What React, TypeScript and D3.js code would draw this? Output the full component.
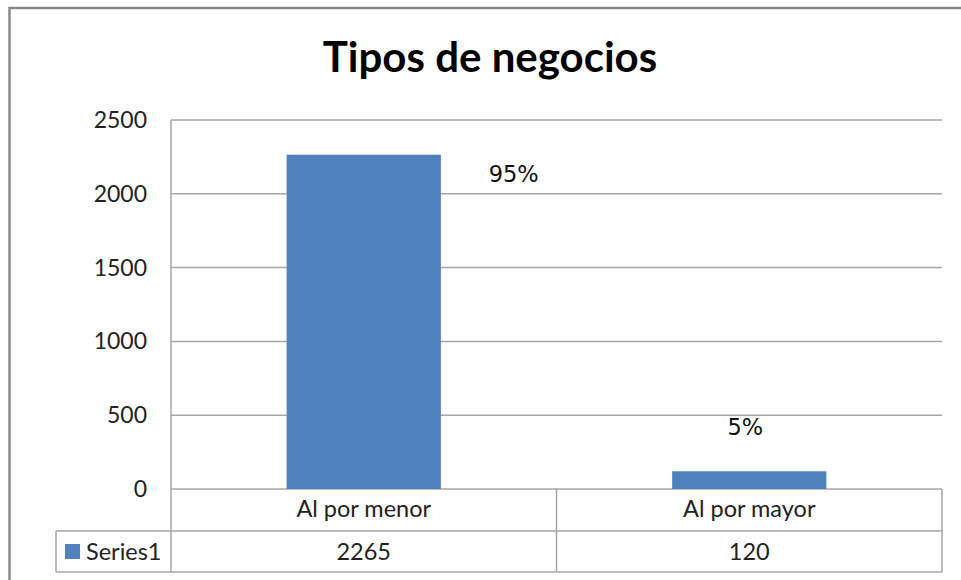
import React from "react";
import * as d3 from "d3";

const categories = ["Al por menor", "Al por mayor"];
const seriesName = "Series1";
const values = [2265, 120];
const percentLabels = ["95%", "5%"];
const yTicks = [0, 500, 1000, 1500, 2000, 2500];
const title = "Tipos de negocios";

const W = 961;
const H = 580;
const plot = { left: 171, right: 942, top: 120, bottom: 489 };
const tableRow1 = 531;
const tableBottom = 572;
const tableLeft = 56;
// manual data-label offsets (relative to bar top-center)
const labelOffsets = [
  { dx: 150, dy: 27 },
  { dx: -4, dy: -36 },
];

const BAR = "#4f81bd";
const GRID = "#a6a6a6";
const FONT = "Lato, 'Open Sans', sans-serif";

export default function App() {
  const y = d3.scaleLinear().domain([0, 2500]).range([plot.bottom, plot.top]);
  const x = d3.scaleBand<string>().domain(categories).range([plot.left, plot.right]).padding(0);
  const step = x.step();
  const barW = step * 0.4;

  return (
    <svg
      width={W}
      height={H}
      style={{ position: "absolute", left: 0, top: 0, background: "#fff" }}
    >
      <rect x={0} y={0} width={W} height={H} fill="#fff" />
      {/* outer chart border */}
      <rect x={9.5} y={8} width={W + 20} height={H + 20} fill="none" stroke="#8a8a8a" strokeWidth={2.5} />

      {/* title */}
      <text
        x={490}
        y={72}
        textAnchor="middle"
        fontFamily={FONT}
        fontWeight="bold"
        fontSize={42}
        fill="#000"
      >
        {title}
      </text>

      {/* gridlines */}
      {yTicks.map((t) => (
        <line key={"g" + t} x1={plot.left} x2={plot.right} y1={y(t)} y2={y(t)} stroke={GRID} strokeWidth={1.5} />
      ))}
      {/* y axis line */}
      <line x1={plot.left} x2={plot.left} y1={plot.top} y2={tableBottom} stroke={GRID} strokeWidth={1.5} />

      {/* y tick labels */}
      {yTicks.map((t) => (
        <text
          key={"t" + t}
          x={147}
          y={y(t) + 8}
          textAnchor="end"
          fontFamily={FONT}
          fontSize={23}
          fill="#222"
        >
          {t}
        </text>
      ))}

      {/* bars */}
      {values.map((v, i) => {
        const cx = (x(categories[i]) as number) + step / 2;
        return (
          <rect key={"b" + i} x={cx - barW / 2} y={y(v)} width={barW} height={y(0) - y(v)} fill={BAR} />
        );
      })}

      {/* data labels */}
      {values.map((v, i) => {
        const cx = (x(categories[i]) as number) + step / 2;
        return (
          <text
            key={"l" + i}
            x={cx + labelOffsets[i].dx}
            y={y(v) + labelOffsets[i].dy}
            textAnchor="middle"
            fontFamily="'DejaVu Sans', Verdana, sans-serif"
            fontSize={22.5}
            fill="#111"
          >
            {percentLabels[i]}
          </text>
        );
      })}

      {/* data table */}
      <line x1={tableLeft} x2={plot.right} y1={tableRow1} y2={tableRow1} stroke={GRID} strokeWidth={1.5} />
      <line x1={tableLeft} x2={plot.right} y1={tableBottom} y2={tableBottom} stroke={GRID} strokeWidth={1.5} />
      <line x1={tableLeft} x2={tableLeft} y1={tableRow1} y2={tableBottom} stroke={GRID} strokeWidth={1.5} />
      <line x1={plot.right} x2={plot.right} y1={plot.bottom} y2={tableBottom} stroke={GRID} strokeWidth={1.5} />
      {categories.slice(1).map((c) => (
        <line key={"v" + c} x1={x(c)} x2={x(c)} y1={plot.bottom} y2={tableBottom} stroke={GRID} strokeWidth={1.5} />
      ))}

      {categories.map((c) => (
        <text
          key={"c" + c}
          x={(x(c) as number) + step / 2}
          y={517}
          textAnchor="middle"
          fontFamily={FONT}
          fontSize={23.5}
          fill="#222"
        >
          {c}
        </text>
      ))}
      {values.map((v, i) => (
        <text
          key={"v" + i}
          x={(x(categories[i]) as number) + step / 2}
          y={560}
          textAnchor="middle"
          fontFamily={FONT}
          fontSize={23.5}
          fill="#222"
        >
          {v}
        </text>
      ))}

      {/* legend key in table */}
      <rect x={65} y={544} width={15} height={15} fill={BAR} />
      <text x={86} y={560} fontFamily={FONT} fontSize={23.5} fill="#222">
        {seriesName}
      </text>
    </svg>
  );
}
